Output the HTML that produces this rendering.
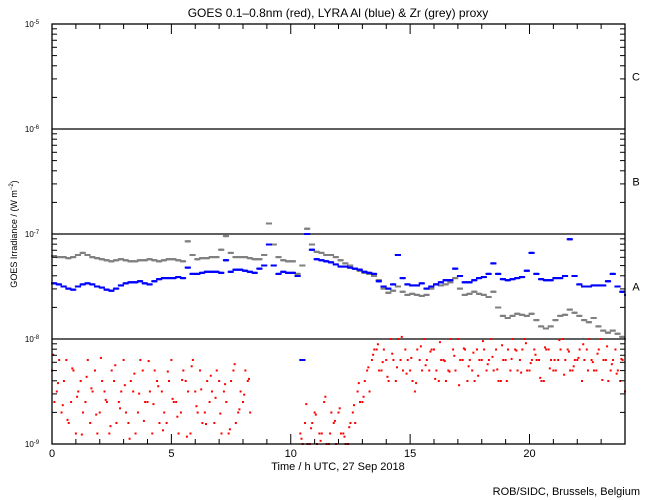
<!DOCTYPE html>
<html><head><meta charset="utf-8"><style>
body{margin:0;background:#fff;}
svg{display:block;font-family:"Liberation Sans",sans-serif;}
</style></head><body>
<svg id="chart" width="650" height="500" xmlns="http://www.w3.org/2000/svg">
<rect width="650" height="500" fill="#fff"/>
<text x="338" y="17" font-size="12" text-anchor="middle">GOES 0.1–0.8nm (red), LYRA Al (blue) &amp; Zr (grey) proxy</text>
<text transform="translate(17,234) rotate(-90)" font-size="9" text-anchor="middle">GOES Irradiance / (W m<tspan font-size="6" dy="-4">−2</tspan><tspan dy="4">)</tspan></text>
<text x="338" y="470" font-size="11" text-anchor="middle">Time / h UTC, 27 Sep 2018</text>
<text x="640" y="495" font-size="11" text-anchor="end">ROB/SIDC, Brussels, Belgium</text>
<g id="plot"></g>
</svg>
<script>
const tStep = 0.2;
const blueVals = [-7.47,-7.48,-7.5,-7.52,-7.53,-7.5,-7.48,-7.47,-7.48,-7.5,-7.51,-7.53,-7.54,-7.52,-7.49,-7.47,-7.46,-7.46,-7.45,-7.47,-7.48,-7.45,-7.43,-7.42,-7.42,-7.42,-7.41,-7.42,-7.32,-7.38,-7.38,-7.37,-7.36,-7.36,-7.36,-7.37,-7.25,-7.36,-7.34,-7.34,-7.35,-7.36,-7.37,-7.33,-7.3,-7.1,-7.3,-7.38,-7.36,-7.37,-7.37,-7.4,-8.2,-7.0,-7.15,-7.24,-7.25,-7.26,-7.27,-7.29,-7.31,-7.31,-7.32,-7.33,-7.34,-7.36,-7.37,-7.38,-7.45,-7.5,-7.52,-7.48,-7.2,-7.42,-7.48,-7.49,-7.49,-7.47,-7.52,-7.5,-7.48,-7.46,-7.44,-7.44,-7.33,-7.4,-7.46,-7.46,-7.44,-7.42,-7.41,-7.38,-7.28,-7.38,-7.43,-7.44,-7.43,-7.42,-7.41,-7.35,-7.18,-7.38,-7.43,-7.44,-7.44,-7.42,-7.42,-7.4,-7.05,-7.4,-7.48,-7.5,-7.5,-7.49,-7.49,-7.49,-7.45,-7.38,-7.5,-7.55,-7.58];
const greyVals = [-7.21,-7.22,-7.22,-7.23,-7.22,-7.2,-7.18,-7.2,-7.22,-7.23,-7.24,-7.25,-7.26,-7.25,-7.24,-7.25,-7.26,-7.26,-7.25,-7.25,-7.24,-7.25,-7.26,-7.25,-7.24,-7.24,-7.25,-7.26,-7.07,-7.2,-7.24,-7.23,-7.23,-7.22,-7.22,-7.15,-7.02,-7.18,-7.22,-7.22,-7.22,-7.23,-7.24,-7.24,-7.2,-6.9,-7.1,-7.22,-7.25,-7.26,-7.26,-7.38,-7.3,-6.95,-7.1,-7.17,-7.18,-7.2,-7.2,-7.22,-7.25,-7.28,-7.3,-7.33,-7.35,-7.37,-7.38,-7.4,-7.44,-7.52,-7.56,-7.54,-7.5,-7.55,-7.58,-7.57,-7.58,-7.59,-7.58,-7.52,-7.48,-7.49,-7.48,-7.46,-7.42,-7.52,-7.58,-7.57,-7.55,-7.57,-7.58,-7.6,-7.55,-7.7,-7.78,-7.8,-7.78,-7.76,-7.77,-7.78,-7.76,-7.82,-7.88,-7.9,-7.88,-7.82,-7.78,-7.77,-7.72,-7.75,-7.78,-7.82,-7.84,-7.8,-7.88,-7.92,-7.94,-7.92,-7.95,-7.98,-8.0];
const redVals1 = [-8.3,-8.5,-8.7,-8.2,-8.6,-8.9,-8.4,-8.6,-8.8,-8.3,-8.7,-8.5,-8.9,-8.4,-8.6,-8.2,-8.8,-8.5,-8.7,-8.3,-8.6,-8.9,-8.4,-8.5,-8.8,-8.2,-8.6,-8.7,-8.4,-8.9,-8.5,-8.3,-8.7,-8.6,-8.8,-8.4,-8.5,-8.9,-8.3,-8.7,-8.6,-8.4,
null,null,null,null,null,null,null,null,null,null,
-8.9,-8.8,-9,-8.7,-8.9,-8.6,-9,-8.8,-8.7,-8.9,-9,
-8.7,-8.5,-8.6,-8.3,-8.2,
-8.1,-8.3,-8.2,-8.0,-8.4,-8.2,-8.1,-8.3,-8.5,-8.2,
-8.0,-8.3,-8.1,-8.4,-8.2,-8.3,-8.1,-8.0,-8.2,-8.4,
-8.3,-8.1,-8.2,-8.3,-8.0,-8.1,-8.4,-8.2,-8.3,-8.1,
-8.2,-8.0,-8.3,-8.1,-8.2,-8.4,-8.1,-8.3,-8.2,-8.0,
-8.1,-8.3,-8.2,-8.4,-8.1,-8.2,-8.3,-8.0,-8.2,-8.3,
-8.1,-8.4,-8.5];
const redVals2 = [-8.6,-8.2,-8.4,-8.8,-8.3,-8.5,-8.7,-8.2,-8.5,-8.9,-8.4,-8.6,-8.3,-8.8,-8.5,-8.7,-8.4,-8.9,-8.2,-8.6,-8.5,-8.3,-8.8,-8.7,-8.4,-8.6,-8.9,-8.3,-8.5,-8.2,-8.7,-8.8,-8.4,-8.5,-8.3,-8.9,-8.6,-8.4,-8.8,-8.5,-8.3,-8.7,
null,null,null,null,null,null,null,null,null,null,
-9,-9,-8.8,-9,-8.9,-9,-8.7,-9,-8.9,-9,-8.8,
-8.8,-8.6,-8.4,-8.5,-8.1,
-8.3,-8.1,-8.4,-8.2,-8.0,-8.3,-8.2,-8.4,-8.1,-8.3,
-8.2,-8.1,-8.3,-8.2,-8.4,-8.0,-8.3,-8.2,-8.1,-8.2,
-8.4,-8.2,-8.1,-8.2,-8.3,-8.4,-8.2,-8.1,-8.0,-8.3,
-8.1,-8.3,-8.2,-8.2,-8.4,-8.1,-8.2,-8.3,-8.1,-8.2,
-8.3,-8.2,-8.1,-8.2,-8.0,-8.3,-8.1,-8.2,-8.4,-8.2,
-8.3,-8.2,-8.3];
const redVals3 = [-8.15,-8.42,-8.63,-8.77,-8.28,-8.55,-8.91,-8.36,-8.47,-8.72,-8.18,-8.58,-8.83,-8.25,-8.66,-8.44,-8.95,-8.33,-8.52,-8.78,-8.21,-8.62,-8.45,-8.87,-8.31,-8.57,-8.74,-8.39,-8.93,-8.26,-8.64,-8.48,-8.81,-8.35,-8.56,-8.71,-8.43,-8.86,-8.24,-8.67,-8.53,-8.38,
null,null,null,null,null,null,null,null,null,null,
-8.95,-8.62,-8.85,-8.72,-8.97,-8.55,-8.9,-8.78,-8.66,-8.93,-8.84,
-8.63,-8.42,-8.55,-8.27,-8.15,
-8.05,-8.22,-8.36,-8.14,-8.27,-7.98,-8.33,-8.18,-8.42,-8.07,
-8.25,-8.12,-8.38,-8.03,-8.21,-8.31,-8.16,-8.44,-8.09,-8.26,
-8.13,-8.35,-8.02,-8.24,-8.17,-8.29,-8.06,-8.4,-8.19,-8.11,
-8.32,-8.04,-8.23,-8.15,-8.37,-8.08,-8.28,-8.2,-8.01,-8.34,
-8.12,-8.26,-8.18,-8.05,-8.3,-8.22,-8.14,-8.39,-8.07,-8.24,
-8.33,-8.19,-8.45];
const xTickLabels = ["0","5","10","15","20"];
const decadeExps = [-5,-6,-7,-8,-9];
const classLabels = ["C","B","A"];

const X0=52, X1=625, Y0=24, Y1=444;
const xs = t => X0 + t/24*(X1-X0);
const ys = l => Y0 + (-5 - l)*(Y1-Y0)/4;
const NS="http://www.w3.org/2000/svg";
const g=document.getElementById('plot');
function mk(tag, attrs){const e=document.createElementNS(NS,tag);for(const k in attrs)e.setAttribute(k,attrs[k]);g.appendChild(e);return e;}

[-6,-7,-8].forEach(l=>{
  const e=mk('line',{x1:X0,x2:X1,y1:ys(l),y2:ys(l),stroke:'#000','stroke-width':1.3});
  
  
});
classLabels.forEach((c,i)=>{
  const e=mk('text',{x:636,y:ys(-5.5-i)+4,'font-size':11,'text-anchor':'middle'});
  e.textContent=c;
  
  
});

function dots(vals, color, name, offsets){
  vals.forEach((v,i)=>{
    if(v===null)return;
    offsets.forEach(o=>{
      const t=i*tStep+o; if(t>24)return;
      const e=mk('rect',{x:xs(t)-1,y:ys(v)-1,width:2,height:2,fill:color});
      
      
    });
  });
}
const dense=[0,0.025,0.05,0.075,0.1,0.125,0.15,0.175];
dots(greyVals,'#808080','zr-point',dense);
dots(blueVals,'#0000ff','al-point',dense);
dots(redVals1,'#ff0000','goes-point',[0]);
dots(redVals2,'#ff0000','goes-point',[0.1]);
dots(redVals3,'#ff0000','goes-point',[0.05]);

const fr=mk('rect',{x:X0,y:Y0,width:X1-X0,height:Y1-Y0,fill:'none',stroke:'#000','stroke-width':1.3});



decadeExps.forEach(ex=>{
  const y=ys(ex);
  const lab=mk('text',{x:X0-20,y:y+3,'font-size':8,'text-anchor':'middle'});
  lab.innerHTML='10<tspan font-size="6" dy="-3">'+ex+'</tspan>';
  
  
  [[X0,1],[X1,-1]].forEach(([x,d])=>{
    mk('line',{x1:x,x2:x+d*10,y1:y,y2:y,stroke:'#000'});
    if(ex>-9)for(let k=2;k<=9;k++){const yy=ys(ex-1+Math.log10(k));mk('line',{x1:x,x2:x+d*5,y1:yy,y2:yy,stroke:'#000'});}
  });
});
for(let h=0;h<=24;h++){
  const x=xs(h), L=(h%5===0)?10:5;
  mk('line',{x1:x,x2:x,y1:Y1,y2:Y1-L,stroke:'#000'});
  mk('line',{x1:x,x2:x,y1:Y0,y2:Y0+L,stroke:'#000'});
}
xTickLabels.forEach(s=>{
  const e=mk('text',{x:xs(+s),y:457,'font-size':11,'text-anchor':'middle'});
  e.textContent=s;
  
  
});
</script>
</body></html>
